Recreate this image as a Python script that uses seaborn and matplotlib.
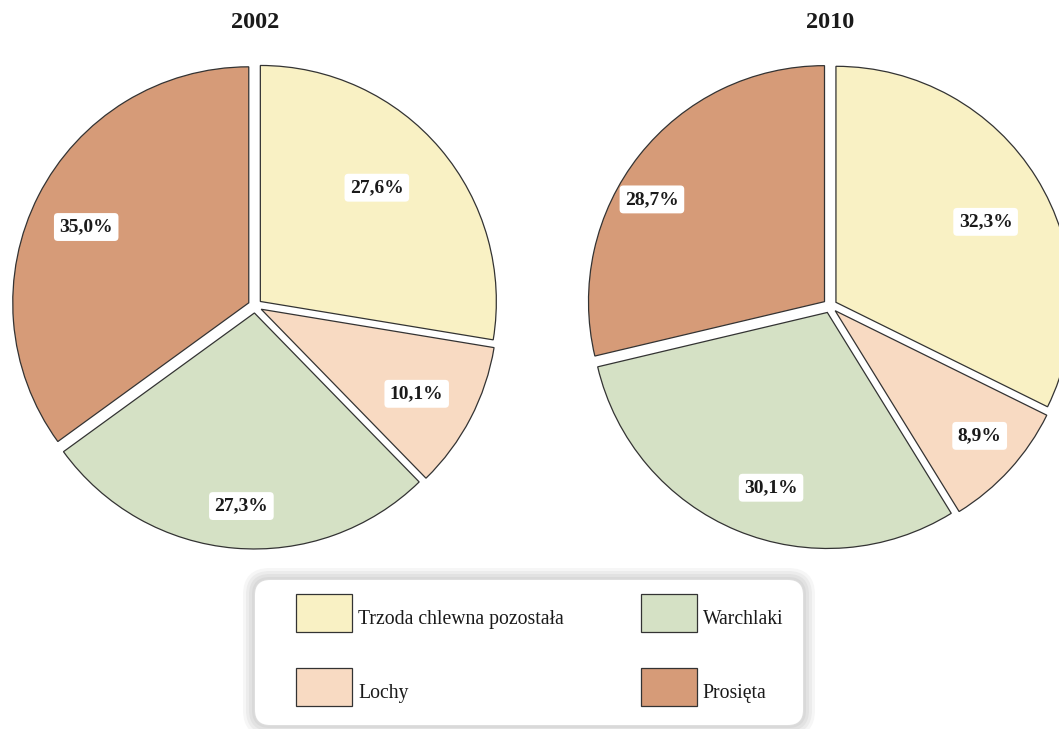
import numpy as np
import matplotlib
matplotlib.use("Agg")
import matplotlib.pyplot as plt
import matplotlib.patches as mpatches
from matplotlib.patches import FancyBboxPatch
from matplotlib.legend_handler import HandlerPatch
import seaborn as sns

# Struktura pogłowia trzody chlewnej (%)
categories = ["Trzoda chlewna pozostała", "Lochy", "Warchlaki", "Prosięta"]
years = ["2002", "2010"]
shares_2002 = [27.6, 10.1, 27.3, 35.0]
shares_2010 = [32.3, 8.9, 30.1, 28.7]
colors = ["#F9F1C4", "#F8DAC2", "#D5E1C5", "#D69B78"]

sns.set_theme(style="white")
plt.rcParams["font.family"] = ["Liberation Serif", "DejaVu Serif"]

W, H = 1059, 729
fig = plt.figure(figsize=(W / 100, H / 100), dpi=100)
ax = fig.add_axes([0, 0, 1, 1])

R = 236
# (rok, udziały, środek, odległość etykiety, przesunięcie kąta etykiety)
pies = [
    (years[0], shares_2002, (255, H - 306), [0.69, 0.75, 0.82, 0.76], [4, -1, 1, 2]),
    (years[1], shares_2010, (830, H - 306), [0.72, 0.81, 0.78, 0.85], [-3.6, 1.4, 4.7, 7.7]),
]

for year, shares, center, dist, dang in pies:
    wedges, _, autotexts = ax.pie(
        shares, colors=colors, startangle=90, counterclock=False,
        center=center, radius=R, explode=[7] * len(shares),
        autopct=lambda p: f"{p:.1f}%".replace(".", ","),
        wedgeprops=dict(edgecolor="#333333", linewidth=0.9),
    )
    for w, t, f, da in zip(wedges, autotexts, dist, dang):
        mid = np.deg2rad((w.theta1 + w.theta2) / 2 + da)
        cx, cy = w.center
        t.set_position((cx + f * w.r * np.cos(mid), cy + f * w.r * np.sin(mid)))
        t.set_fontsize(14)
        t.set_fontweight("bold")
        t.set_color("#1a1a1a")
        t.set_bbox(dict(boxstyle="round,pad=0.28,rounding_size=0.2",
                        facecolor="white", edgecolor="none"))
    ax.text(center[0], H - 22, year, ha="center", va="center",
            fontsize=17.5, fontweight="bold", color="#1a1a1a")

ax.set_xlim(0, W)
ax.set_ylim(0, H)
ax.set_aspect("auto")
ax.axis("off")

# ramka legendy z szarą, cieniowaną obwódką
bx, by, bw, bh = 255, 4, 548, 145
for grow, shade in [(12, "#f6f6f6"), (9, "#ececec"), (6, "#e2e2e2"), (3, "#d9d9d9"), (1, "#dedede")]:
    ax.add_patch(FancyBboxPatch((bx - grow, by - grow), bw + 2 * grow, bh + 2 * grow,
                                boxstyle=f"round,pad=0,rounding_size={15 + grow}",
                                facecolor=shade, edgecolor="none", clip_on=False))
ax.add_patch(FancyBboxPatch((bx, by), bw, bh, boxstyle="round,pad=0,rounding_size=15",
                            facecolor="white", edgecolor="none"))


# prostokąt legendy nieco wyżej względem tekstu
def raised_rect(legend, orig_handle, xdescent, ydescent, width, height, fontsize):
    return mpatches.Rectangle((-xdescent, -ydescent + 3.6), width, height)


handles = [mpatches.Patch(facecolor=c, edgecolor="#333333", linewidth=0.9) for c in colors]
ax.legend(handles, categories, ncol=2, loc="upper left",
          bbox_to_anchor=(296, H - 599), bbox_transform=ax.transData,
          frameon=False, borderpad=0, borderaxespad=0, fontsize=14.25,
          handlelength=2.83, handleheight=2.58, handletextpad=0.3,
          columnspacing=3.9, labelspacing=1.82, labelcolor="#1a1a1a",
          handler_map={mpatches.Patch: HandlerPatch(patch_func=raised_rect)})

fig.savefig("out.png", dpi=100)
